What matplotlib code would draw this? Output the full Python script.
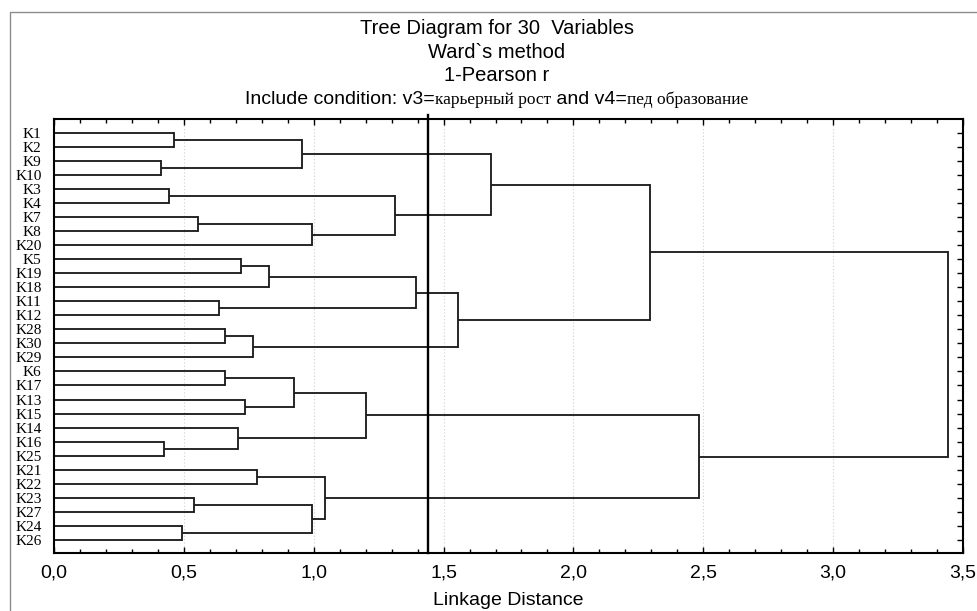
import matplotlib
matplotlib.use("Agg")
import matplotlib.pyplot as plt
from matplotlib.patches import Rectangle
from matplotlib.ticker import MultipleLocator, FuncFormatter

# ---------------- data ----------------
leaf_labels = ["K1", "K2", "K9", "K10", "K3", "K4", "K7", "K8", "K20", "K5",
               "K19", "K18", "K11", "K12", "K28", "K30", "K29", "K6", "K17", "K13",
               "K15", "K14", "K16", "K25", "K21", "K22", "K23", "K27", "K24", "K26"]

# linkage: node ids 0..29 are leaves (in the order above), new clusters get 30, 31, ...
link_a = [0, 2, 30, 4, 6, 34, 33, 32, 9, 38, 12, 39, 14, 42, 41, 37,
          17, 19, 46, 22, 21, 48, 24, 26, 28, 53, 52, 51, 45]
link_b = [1, 3, 31, 5, 7, 8, 35, 36, 10, 11, 13, 40, 15, 16, 43, 44,
          18, 20, 47, 23, 49, 50, 25, 27, 29, 54, 55, 56, 57]
link_h = [0.463, 0.413, 0.956, 0.441, 0.556, 0.992, 1.314, 1.683, 0.721, 0.827,
          0.636, 1.394, 0.659, 0.766, 1.556, 2.295, 0.659, 0.734, 0.924, 0.422,
          0.707, 1.200, 0.781, 0.538, 0.493, 0.995, 1.044, 2.482, 3.442]

cut_distance = 1.44

title_lines = ["Tree Diagram for 30  Variables", "Ward`s method", "1-Pearson r"]
cond_parts = [("Include condition: v3=", "sans"), ("карьерный рост", "serif"),
              (" and v4=", "sans"), ("пед образование", "serif")]
x_label = "Linkage Distance"
x_max = 3.5

# ---------------- figure ----------------
W, H = 978, 611
fig = plt.figure(figsize=(W / 100, H / 100), dpi=100)
fig.patch.set_facecolor("white")

def fx(x):
    return x / W

def fy(y):
    return 1 - y / H

SANS = ["Liberation Sans", "DejaVu Sans"]
SERIF = ["Liberation Serif", "DejaVu Serif"]

# outer frame
fig.patches.append(Rectangle((fx(10), fy(700)), fx(1100), 688 / H,
                             transform=fig.transFigure, fill=False,
                             edgecolor="#8c8c8c", lw=1.0))

ax_l, ax_r, ax_t, ax_b = 54, 963, 118.5, 553
ax = fig.add_axes([fx(ax_l), fy(ax_b), (ax_r - ax_l) / W, (ax_b - ax_t) / H])

# dendrogram
pos = {i: float(i) for i in range(len(leaf_labels))}
hgt = {i: 0.0 for i in range(len(leaf_labels))}
lc = "#1e1e1e"
lw = 1.35
for k, (a, b, h) in enumerate(zip(link_a, link_b, link_h)):
    node = len(leaf_labels) + k
    ax.plot([hgt[a], h], [pos[a], pos[a]], color=lc, lw=lw, solid_capstyle="butt")
    ax.plot([hgt[b], h], [pos[b], pos[b]], color=lc, lw=lw, solid_capstyle="butt")
    ax.plot([h, h], [pos[a], pos[b]], color=lc, lw=lw, solid_capstyle="projecting")
    pos[node] = (pos[a] + pos[b]) / 2
    hgt[node] = h

ax.set_xlim(0, x_max)
ax.set_ylim(29.94, -1.03)

ax.plot([cut_distance, cut_distance], [29.94, -1.28], color="black", lw=1.7,
        zorder=5, clip_on=False)

# grid
for g in [0.5, 1.0, 1.5, 2.0, 2.5, 3.0]:
    ax.axvline(g, color="#cfcfcf", lw=0.8, ls=(0, (1, 2)), zorder=0)

ax.xaxis.set_major_locator(MultipleLocator(0.5))
ax.xaxis.set_minor_locator(MultipleLocator(0.1))
ax.xaxis.set_major_formatter(FuncFormatter(lambda v, p: f"{v:.1f}".replace(".", ",")))
ax.tick_params(axis="x", which="both", direction="in", top=True, bottom=True,
               width=1.0, color="black", labelsize=14, pad=8)
ax.tick_params(axis="x", which="major", length=4)
ax.tick_params(axis="x", which="minor", length=3)
for t in ax.get_xticklabels():
    t.set_fontfamily(SANS)

ax.set_yticks(range(len(leaf_labels)))
ax.set_yticklabels(leaf_labels, fontfamily=SERIF, fontsize=11)
ax.tick_params(axis="y", which="major", left=True, right=True, direction="in",
               length=4, width=1.0, pad=9)
ax.tick_params(axis="y", which="major", left=False)

for s in ax.spines.values():
    s.set_linewidth(1.5)
    s.set_color("black")

# x label
fig.text(fx((ax_l + ax_r) / 2), fy(605), x_label, ha="center", va="baseline",
         fontsize=14, fontfamily=SANS)

# titles
tcx = 497
for i, line in enumerate(title_lines):
    fig.text(fx(tcx), fy(34.3 + 23.2 * i), line, ha="center", va="baseline",
             fontsize=14.5, fontfamily=SANS)

# condition line with mixed fonts
renderer = fig.canvas.get_renderer()
texts = []
for s, kind in cond_parts:
    if kind == "sans":
        t = fig.text(0, fy(104), s, ha="left", va="baseline", fontsize=14, fontfamily=SANS)
    else:
        t = fig.text(0, fy(104), s, ha="left", va="baseline", fontsize=12.5, fontfamily=SERIF)
    texts.append(t)
widths = [t.get_window_extent(renderer).width for t in texts]
x0 = tcx - sum(widths) / 2
for t, w in zip(texts, widths):
    t.set_x(fx(x0))
    x0 += w

fig.savefig("out.png", dpi=100, facecolor="white")
